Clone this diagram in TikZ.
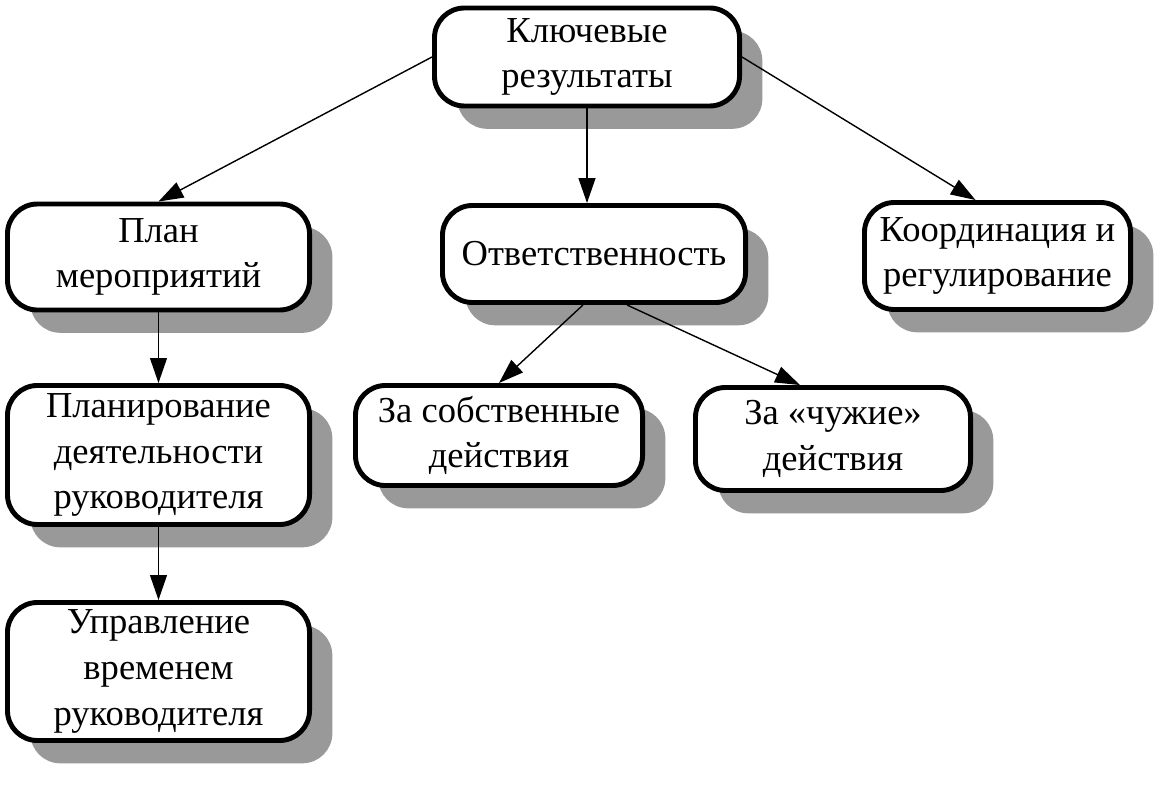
\documentclass[tikz,border=0pt]{standalone}
\usepackage{fontspec}
\setmainfont{Liberation Serif}
\usetikzlibrary{shadows,arrows.meta,calc}
\begin{document}
\begin{tikzpicture}[x=0.025cm,y=-0.025cm,
    blok/.style={draw,line width=3.5pt,rounded corners=0.75cm,fill=white,inner sep=2pt,
      align=center,font=\fontsize{26}{32.5}\selectfont,
      drop shadow={shadow xshift=0.57cm,shadow yshift=-0.57cm,fill=black!40,opacity=1}},
    pil/.style={line width=1pt,-{Triangle[length=0.62cm,width=0.42cm]}}]
    \useasboundingbox (0,0) rectangle (1165,795);
    \node[blok,minimum width=7.625cm,minimum height=2.45cm] at (587,57) (key) {Ключевые\\результаты};
    \node[blok,minimum width=7.55cm,minimum height=2.65cm] at (158.5,257) (plan) {План\\мероприятий};
    \node[blok,minimum width=7.575cm,minimum height=2.425cm] at (594,254) (otv) {Ответственность};
    \node[blok,minimum width=6.65cm,minimum height=2.675cm] at (997.5,256) (koord) {Координация и\\регулирование};
    \node[blok,minimum width=7.55cm,minimum height=3.475cm] at (158.5,455) (planir) {Планирование\\деятельности\\руководителя};
    \node[blok,minimum width=7.55cm,minimum height=3.45cm] at (158.5,671.5) (upr) {Управление\\временем\\руководителя};
    \node[blok,minimum width=7.175cm,minimum height=2.5cm] at (499,435.5) (sobst) {За собственные\\действия};
    \node[blok,minimum width=6.875cm,minimum height=2.575cm] at (833,439) (chuzh) {За «чужие»\\действия};
    \draw[pil] (key.west)--(plan.north);
    \draw[pil] (key.south)--(key.south|-otv.north);
    \draw[pil] (key.east)--($(koord.north)+(-22,0)$);
    \draw[pil] (plan.south)--(planir.north);
    \draw[pil] (planir.south)--(upr.north);
    \draw[pil] ($(otv.south)+(-11,0)$)--(sobst.north);
    \draw[pil] ($(otv.south)+(33,0)$)--($(chuzh.north)+(-33,0)$);
\end{tikzpicture}
\end{document}
